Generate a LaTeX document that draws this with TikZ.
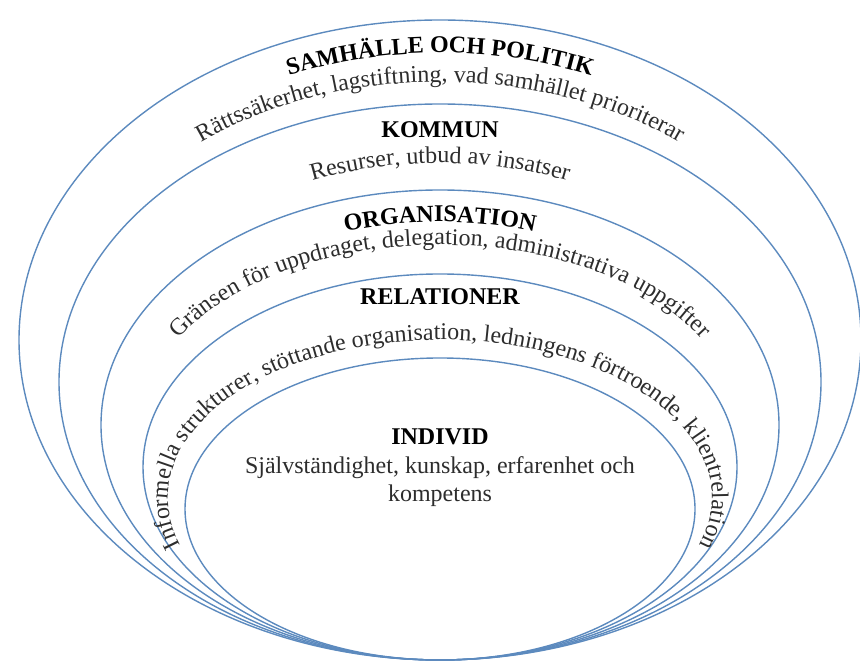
\documentclass[tikz,border=0pt]{standalone}
\usepackage{fontspec}
\setmainfont{Liberation Serif}
\usetikzlibrary{positioning,decorations.text}
\definecolor{ringblue}{RGB}{92,138,190}
\definecolor{textgray}{RGB}{45,45,45}
\newcommand{\bodytext}{\fontsize{12}{14}\selectfont\color{textgray}}
\newcommand{\headtext}{\fontsize{12}{14}\selectfont\bfseries\color{black}}

\begin{document}
\begin{tikzpicture}[x=0.5pt, y=0.5pt,
    ring/.style={draw=ringblue, line width=0.7pt},
    head/.style={font=\headtext, inner sep=0pt},
    body/.style={font=\bodytext, inner sep=0pt, align=center},
    arctext/.style={decorate, decoration={text along path, text align=center, text={#1}}}]
    \useasboundingbox (0,0) rectangle (860,662);

    \draw[ring] (440,322) ellipse [x radius=421, y radius=320];
    \draw[ring] (440,280) ellipse [x radius=381, y radius=278];
    \draw[ring] (440,237) ellipse [x radius=339, y radius=235];
    \draw[ring] (440,195) ellipse [x radius=297, y radius=193];
    \draw[ring] (440,153) ellipse [x radius=255, y radius=151];

    \path[arctext={|\headtext|SAMHÄLLE OCH POLITIK}] (440,322) ++(215:388 and 287) arc[start angle=215, end angle=-35, x radius=388, y radius=287];
    \path[arctext={|\bodytext|Rättssäkerhet, lagstiftning, vad samhället prioriterar}] (440,322) ++(215:372 and 258) arc[start angle=215, end angle=-35, x radius=372, y radius=258];

    \node (kommun) [head, anchor=base] at (440,524) {KOMMUN};
    \path[arctext={|\bodytext|Resurser, utbud av insatser}] (440,279) ++(215:323 and 220) arc[start angle=215, end angle=-35, x radius=323, y radius=220];

    \path[arctext={|\headtext|ORGANISATION}] (440,237) ++(215:307 and 203) arc[start angle=215, end angle=-35, x radius=307, y radius=203];
    \path[arctext={|\bodytext|Gränsen för uppdraget, delegation, administrativa uppgifter}] (440,237) ++(215:298 and 180) arc[start angle=215, end angle=-35, x radius=298, y radius=180];

    \node (relationer) [head, anchor=base] at (440,357) {RELATIONER};
    \path[arctext={|\bodytext|Informella strukturer, stöttande organisation, ledningens förtroende, klientrelation}] (440,164) ++(240:272 and 158) arc[start angle=240, end angle=-60, x radius=272, y radius=158];

    \node (individ) [head, anchor=base] at (440,217) {INDIVID};
    \node (individtext) [body, below=5pt of individ] {Självständighet, kunskap, erfarenhet och\\kompetens};
\end{tikzpicture}
\end{document}
